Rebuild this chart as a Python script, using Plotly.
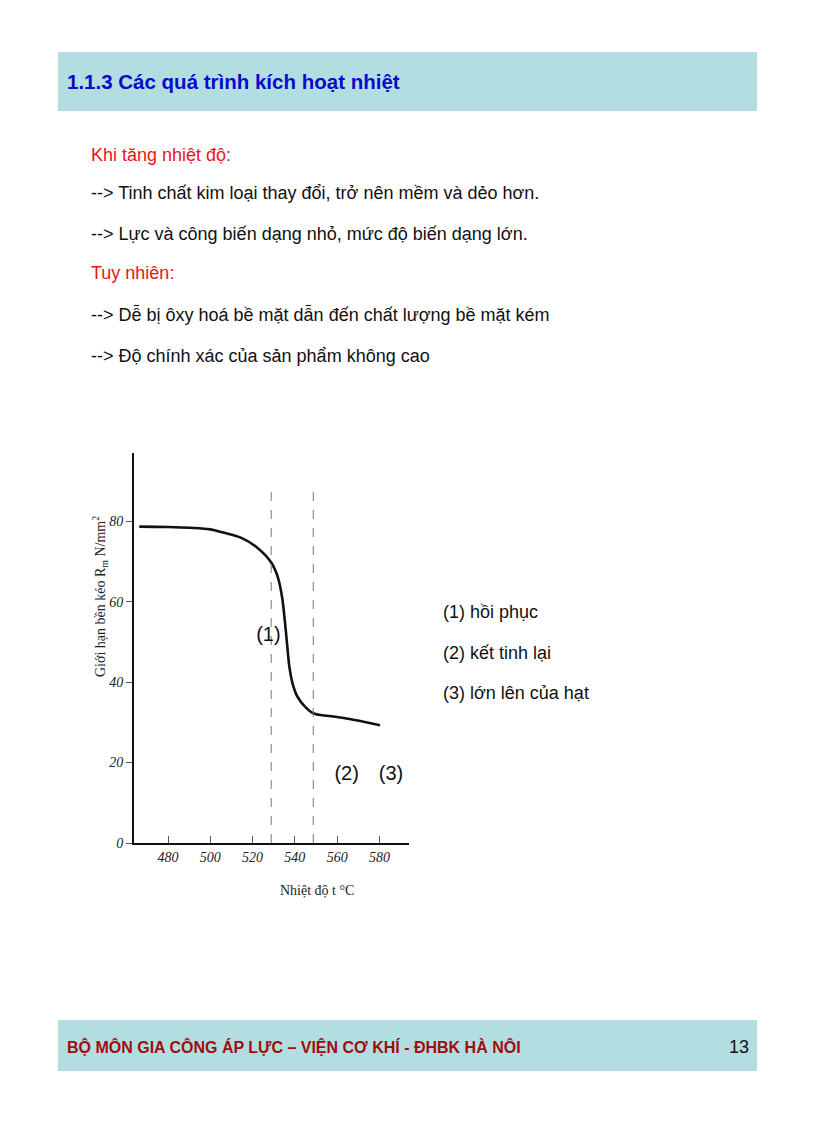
import plotly.graph_objects as go

# ---- data ----
temperature = [466.4, 480, 490.4, 500, 506.2, 514.2, 522.1, 528.9, 532.0, 534.0,
               535.3, 536.4, 537.5, 539.0, 541.1, 545, 549.0, 556, 563.2, 572, 580.3]
strength = [78.7, 78.6, 78.4, 78.0, 77.2, 76.0, 73.5, 69.7, 66.0, 61.0,
            55.0, 49.0, 43.5, 39.5, 36.5, 33.8, 32.2, 31.6, 31.1, 30.2, 29.3]
stage_bounds = [528.8, 548.7]
x_ticks = [480, 500, 520, 540, 560, 580]
y_ticks = [0, 20, 40, 60, 80]
stage_labels = ["(1)", "(2)", "(3)"]
stage_label_x = [527.5, 564.5, 585.5]
stage_label_y = [51.5, 17, 17]
legend_lines = ["(1) hồi phục", "(2) kết tinh lại", "(3) lớn lên của hạt"]

title_text = "1.1.3 Các quá trình kích hoạt nhiệt"
body_lines = [
    ("Khi tăng nhiệt độ:", "#E8141B"),
    ("--> Tinh chất kim loại thay đổi, trở nên mềm và dẻo hơn.", "#111111"),
    ("--> Lực và công biến dạng nhỏ, mức độ biến dạng lớn.", "#111111"),
    ("Tuy nhiên:", "#E8141B"),
    ("--> Dễ bị ôxy hoá bề mặt dẫn đến chất lượng bề mặt kém", "#111111"),
    ("--> Độ chính xác của sản phẩm không cao", "#111111"),
]
footer_text = "BỘ MÔN GIA CÔNG ÁP LỰC – VIỆN CƠ KHÍ - ĐHBK HÀ NÔI"
page_number = "13"
x_title = "Nhiệt độ t °C"
y_title = "Giới hạn bền kéo R<sub>m</sub> N/mm<sup>2</sup>"

# page is offset by the 8px body margin of the browser
OFF = 8
W, H = 800, 1090
H_EFF = H - 8  # measured effective vertical extent of the paper
SANS = "Liberation Sans, Arial, sans-serif"
SERIF = "Liberation Serif, DejaVu Serif, serif"


def px(x):
    return (x - OFF) / W


def py(y):
    return 1 - (y - OFF) / H_EFF


fig = go.Figure()

fig.add_trace(go.Scatter(
    x=temperature, y=strength, mode="lines",
    line=dict(color="#111111", width=2.6, shape="spline", smoothing=1.0),
    showlegend=False, hoverinfo="skip"))

for xb in stage_bounds:
    fig.add_trace(go.Scatter(
        x=[xb, xb], y=[0, 88], mode="lines",
        line=dict(color="#777777", width=1, dash="dash"),
        showlegend=False, hoverinfo="skip"))

fig.add_trace(go.Scatter(
    x=stage_label_x, y=stage_label_y, mode="text", text=stage_labels,
    textfont=dict(family=SANS, size=20, color="#111111"),
    showlegend=False, hoverinfo="skip"))

fig.update_layout(
    width=W, height=H, margin=dict(l=0, r=0, t=0, b=0),
    paper_bgcolor="white", plot_bgcolor="rgba(0,0,0,0)",
    xaxis=dict(domain=[px(134), px(409)], range=[463.9, 594],
               tickvals=x_ticks, ticktext=[str(v) for v in x_ticks],
               ticks="inside", ticklen=7, tickcolor="#555", tickwidth=1,
               showline=True, linecolor="#111", linewidth=2,
               showgrid=False, zeroline=False,
               tickfont=dict(family=SERIF, size=14, color="#222", style="italic")),
    yaxis=dict(domain=[py(843), py(453)], range=[0, 97],
               tickvals=y_ticks, ticktext=[str(v) for v in y_ticks],
               ticks="outside", ticklen=6, tickcolor="#555", tickwidth=1,
               showline=True, linecolor="#111", linewidth=2,
               showgrid=False, zeroline=False,
               tickfont=dict(family=SERIF, size=14, color="#222", style="italic")),
)

# axis titles placed as in the reference
fig.add_annotation(xref="paper", yref="paper", x=px(317), y=py(890),
                   xanchor="center", yanchor="middle", showarrow=False,
                   text=x_title, font=dict(family=SERIF, size=14, color="#222"))
fig.add_annotation(xref="paper", yref="paper", x=px(100), y=py(597),
                   xanchor="center", yanchor="middle", showarrow=False,
                   textangle=-90,
                   text=y_title, font=dict(family=SERIF, size=14, color="#222"))

# header and footer bands
band_color = "#B2DEE2"
fig.add_shape(type="rect", xref="paper", yref="paper",
              x0=px(58), x1=px(757), y0=py(111), y1=py(52),
              fillcolor=band_color, line=dict(width=0), layer="below")
fig.add_shape(type="rect", xref="paper", yref="paper",
              x0=px(58), x1=px(757), y0=py(1071), y1=py(1020),
              fillcolor=band_color, line=dict(width=0), layer="below")

fig.add_annotation(xref="paper", yref="paper", x=px(65), y=py(82),
                   xanchor="left", yanchor="middle", showarrow=False,
                   text="<b>" + title_text + "</b>",
                   font=dict(family=SANS, size=20.5, color="#0A0ACC"))

body_y = [155, 193, 234, 273, 315, 356]
for (txt, col), yy in zip(body_lines, body_y):
    fig.add_annotation(xref="paper", yref="paper", x=px(89), y=py(yy),
                       xanchor="left", yanchor="middle", showarrow=False,
                       text=txt, font=dict(family=SANS, size=18, color=col))

legend_y = [612, 653, 693]
for txt, yy in zip(legend_lines, legend_y):
    fig.add_annotation(xref="paper", yref="paper", x=px(441), y=py(yy),
                       xanchor="left", yanchor="middle", showarrow=False,
                       text=txt, font=dict(family=SANS, size=18, color="#111111"))

fig.add_annotation(xref="paper", yref="paper", x=px(65), y=py(1047),
                   xanchor="left", yanchor="middle", showarrow=False,
                   text="<b>" + footer_text + "</b>",
                   font=dict(family=SANS, size=16, color="#A00D0D"))
fig.add_annotation(xref="paper", yref="paper", x=px(751), y=py(1047),
                   xanchor="right", yanchor="middle", showarrow=False,
                   text=page_number,
                   font=dict(family=SANS, size=18, color="#111111"))

fig.write_html("out.html")
